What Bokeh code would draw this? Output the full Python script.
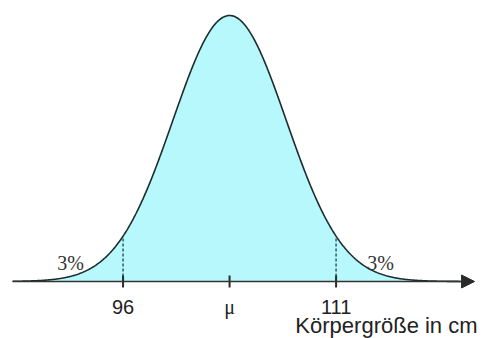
from statistics import NormalDist
import numpy as np
from bokeh.plotting import figure
from bokeh.models import Range1d, Arrow, NormalHead
from bokeh.core.properties import value
from bokeh.embed import file_html
from bokeh.resources import INLINE

# --- data ---
lower_bound = 96.0
upper_bound = 111.0
tail_share = 0.03
tick_values = [96.0, 103.5, 111.0]
tick_labels = ["96", "\u03bc", "111"]
tail_labels = ["3%", "3%"]
axis_title = "Körpergröße in cm"

mu = (lower_bound + upper_bound) / 2
sigma = (upper_bound - mu) / NormalDist().inv_cdf(1 - tail_share)

x_lo, x_hi = 87.37, 121.38
y_lo, y_hi = -0.2143, 1.0564

p = figure(width=483, height=338, output_backend="svg", toolbar_location=None,
           x_range=Range1d(x_lo, x_hi), y_range=Range1d(y_lo, y_hi),
           min_border=0, outline_line_color=None)
p.axis.visible = False
p.grid.visible = False
p.background_fill_color = "white"

xs = np.linspace(88.22, 120.2, 600)
ys = np.exp(-0.5 * ((xs - mu) / sigma) ** 2)

p.varea(x=xs, y1=0, y2=ys, fill_color="#b6f8fb")
p.line(xs, ys, line_color="#1c2c2c", line_width=1.6)

# dashed bound lines
bx = [lower_bound, upper_bound]
by = [float(np.exp(-0.5 * ((b - mu) / sigma) ** 2)) for b in bx]
p.segment(x0=bx, y0=[0, 0], x1=bx, y1=by, line_color="#3a6470",
          line_width=1.6, line_dash="3 2")

# x axis with arrow
p.add_layout(Arrow(end=NormalHead(size=13, fill_color="#2a2a2a", line_color="#2a2a2a"),
                   x_start=88.22, y_start=0, x_end=120.75, y_end=0,
                   line_color="#333333", line_width=1.6))

# ticks
p.segment(x0=tick_values, y0=[0.0226] * 3, x1=tick_values, y1=[-0.0226] * 3,
          line_color="#2a2a2a", line_width=2)

# tick labels
p.text(x=[tick_values[0], tick_values[2]], y=[-0.0977, -0.0977],
       text=[tick_labels[0], tick_labels[2]], text_font=value("Liberation Sans"),
       text_font_size="20px", text_align="center", text_baseline="alphabetic",
       text_color="#222222")
p.text(x=[tick_values[1]], y=[-0.0977], text=[tick_labels[1]],
       text_font=value("Liberation Serif"), text_font_size="20px",
       text_align="center", text_baseline="alphabetic", text_color="#222222")

# axis title
p.text(x=[120.96], y=[-0.1654], text=[axis_title],
       text_font=value("Liberation Sans"), text_font_size="22px",
       text_align="right", text_baseline="alphabetic", text_color="#222222")

# tail labels
p.text(x=[mu - 11.2, mu + 10.63], y=[0.0714, 0.0714], text=tail_labels,
       text_font=value("Liberation Serif"), text_font_size="20px",
       text_align="center", text_baseline="alphabetic", text_color="#333333")

open("out.html", "w").write(file_html(p, INLINE))
